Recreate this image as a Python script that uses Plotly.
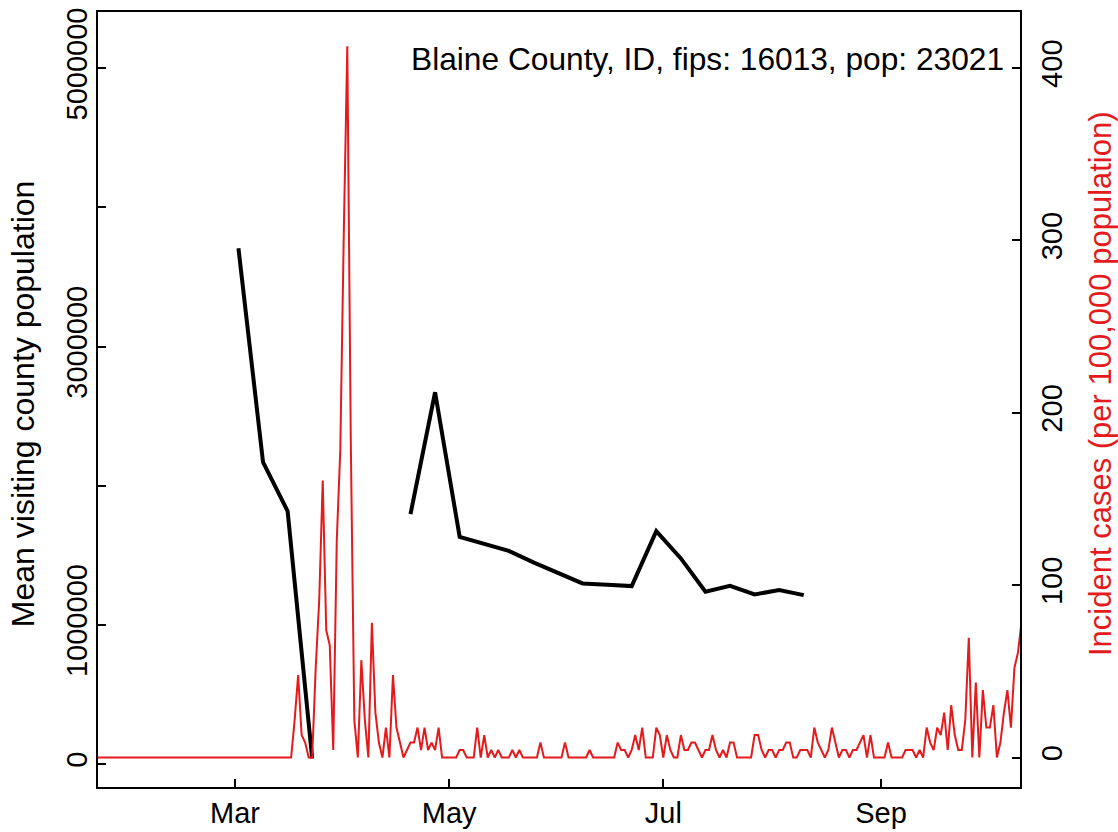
import pandas as pd
import plotly.graph_objects as go

# ---------------- data ----------------
county_title = "Blaine County, ID, fips: 16013, pop: 23021"
population = 23021

# weekly mean visiting county population (Mondays)
week_start = "2020-03-02"
visit_pop = [3707000, 2170000, 1818000, 40000, None, None, None,
             1796000, 2672000, 1633000, 1583000, 1532000, 1449000, 1370000,
             1298000, 1288000, 1279000, 1674000, 1478000, 1238000, 1281000,
             1219000, 1250000, 1214000]

# daily incident case counts, starting 2020-01-22
case_start = "2020-01-22"
cases_jan = [0] * 10
cases_feb = [0] * 29
cases_mar = [0] * 16 + [0, 5, 11, 3, 2, 0, 0, 12, 21, 37, 17, 15, 1, 29, 41]
cases_apr = [70, 95, 42, 5, 0, 13, 5, 0, 18, 6, 2, 0, 4, 0, 11, 4, 2, 0, 1, 2,
             2, 4, 1, 4, 1, 2, 1, 4, 0, 0]
cases_may = [0, 0, 0, 1, 1, 0, 0, 0, 4, 0, 3, 0, 1, 0, 1, 0, 0, 0, 1, 0,
             1, 0, 0, 0, 0, 0, 2, 0, 0, 0, 0]
cases_jun = [0, 0, 2, 0, 0, 0, 0, 0, 0, 1, 0, 0, 0, 0, 0, 0, 0, 2, 1, 1,
             0, 1, 3, 1, 4, 0, 0, 0, 4, 3]
cases_jul = [0, 3, 1, 0, 0, 3, 1, 1, 2, 2, 1, 0, 1, 1, 3, 1, 0, 1, 0, 2,
             2, 0, 0, 0, 0, 0, 3, 3, 1, 0, 1]
cases_aug = [1, 0, 1, 1, 2, 2, 0, 0, 1, 1, 1, 0, 4, 2, 1, 0, 1, 4, 2, 0,
             1, 1, 0, 1, 1, 2, 3, 0, 3, 0, 0]
cases_sep = [0, 0, 2, 0, 0, 0, 0, 1, 1, 1, 0, 1, 0, 4, 2, 1, 4, 3, 6, 1,
             7, 3, 1, 1, 5, 16, 0, 10, 0, 9]
cases_oct = [4, 4, 7, 0, 2, 6, 9, 4, 12, 14, 18]

x_tick_vals = ["2020-03-01", "2020-05-01", "2020-07-01", "2020-09-01"]
x_tick_text = ["Mar", "May", "Jul", "Sep"]
left_tick_vals = [0, 1000000, 2000000, 3000000, 4000000, 5000000]
left_tick_text = ["0", "1000000", "", "3000000", "", "5000000"]
right_tick_vals = [0, 100, 200, 300, 400]

# ---------------- build ----------------
cases = (cases_jan + cases_feb + cases_mar + cases_apr + cases_may + cases_jun
         + cases_jul + cases_aug + cases_sep + cases_oct)
case_dates = pd.date_range(case_start, periods=len(cases), freq="D")
incidence = [c * 100000 / population for c in cases]
week_dates = pd.date_range(week_start, periods=len(visit_pop), freq="7D")

RED = "#E41A1C"
FONT = "Liberation Sans, Arial, sans-serif"

fig = go.Figure()
fig.add_trace(go.Scatter(x=week_dates, y=visit_pop, mode="lines",
                         line=dict(color="black", width=4),
                         connectgaps=False, showlegend=False, yaxis="y"))
fig.add_trace(go.Scatter(x=case_dates, y=incidence, mode="lines",
                         line=dict(color=RED, width=2),
                         showlegend=False, yaxis="y2"))

axis_common = dict(showgrid=False, zeroline=False, showline=True,
                   linecolor="black", linewidth=2, ticks="inside",
                   ticklen=8, tickwidth=2, tickcolor="black", automargin=False,
                   tickfont=dict(family=FONT, size=29, color="black"))

fig.update_layout(
    template="none",
    width=1118, height=832,
    margin=dict(l=98, r=98, t=12, b=45, pad=0),
    paper_bgcolor="white", plot_bgcolor="white",
    font=dict(family=FONT, color="black"),
    xaxis=dict(type="date", range=["2020-01-22 00:00", "2020-10-10 14:00"],
               tickvals=x_tick_vals, ticktext=x_tick_text, mirror=True,
               ticklabelstandoff=-1, **axis_common),
    yaxis=dict(range=[-165000, 5405000], tickvals=left_tick_vals,
               ticktext=left_tick_text, tickangle=-90,
               ticklabelstandoff=-3, **axis_common),
    yaxis2=dict(overlaying="y", side="right", range=[-17.1, 432.5],
                tickvals=right_tick_vals, tickangle=-90,
                ticklabelstandoff=5, **axis_common),
    annotations=[
        dict(text=county_title, xref="paper", yref="paper", x=0.985, y=0.939,
             xanchor="right", yanchor="middle", showarrow=False,
             font=dict(family=FONT, size=31.7, color="black")),
        dict(text="Mean visiting county population", xref="paper", yref="paper",
             x=-0.0805, y=0.495, xanchor="center", yanchor="middle",
             textangle=-90, showarrow=False,
             font=dict(family=FONT, size=32, color="black")),
        dict(text="Incident cases (per 100,000 population)", xref="paper",
             yref="paper", x=1.0868, y=0.52, xanchor="center", yanchor="middle",
             textangle=-90, showarrow=False,
             font=dict(family=FONT, size=31, color=RED)),
    ],
)

fig.write_html("out.html", config={"displayModeBar": False},
               post_script="document.body.style.margin='0';")
